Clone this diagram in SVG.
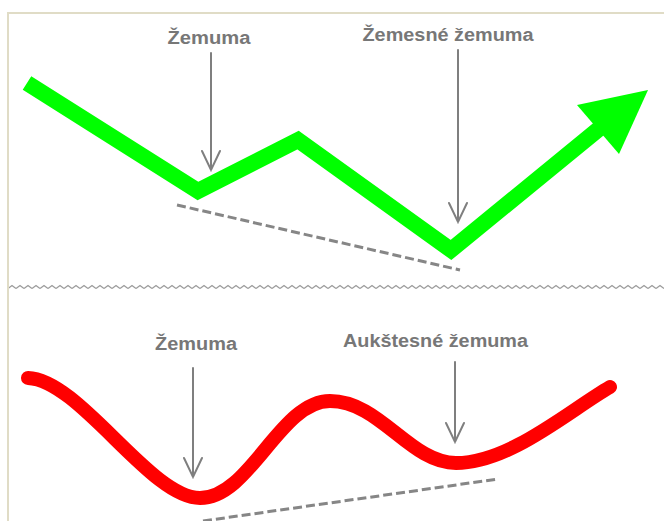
<svg xmlns="http://www.w3.org/2000/svg" width="664" height="521" viewBox="0 0 664 521">
  <defs>
    <style>
      .lbl { font-family: "Liberation Sans", Arial, sans-serif; font-weight: bold; font-size: 18px; fill: #777777; text-anchor: middle; }
      .ptr { fill: none; stroke: #7f7f7f; stroke-width: 2; stroke-linecap: round; stroke-linejoin: miter; }
      .dash { fill: none; stroke: #868686; stroke-width: 3; stroke-dasharray: 9 4; }
      .frame { fill: none; stroke: #e0dcc6; stroke-width: 2; }
    </style>
    <pattern id="zig" x="0" y="284" width="8" height="8" patternUnits="userSpaceOnUse">
      <path d="M0,4.5 L4,1.5 L8,4.5" fill="none" stroke="#9a9a9a" stroke-width="1.3"/>
    </pattern>
  </defs>
  <rect width="664" height="521" fill="#ffffff"/>
  <g id="frame">
    <path class="frame" d="M8,521 V13 H664"/>
    <rect x="9" y="284" width="655" height="8" fill="url(#zig)"/>
  </g>

  <g id="green-trend">
    <polyline points="27,83 198,191 298,140 451,250 600,128" fill="none" stroke="#00ff00" stroke-width="16" stroke-linejoin="miter"/>
    <polygon points="577,105 648,90 619,154" fill="#00ff00"/>
  </g>

  <g id="red-trend">
    <path d="M28,378 C80,380 150,498 200,498 C250,498 280,401 330,401 C380,401 410,463 456,463 C510,463 570,410 610,387" fill="none" stroke="#ff0000" stroke-width="14" stroke-linecap="round"/>
  </g>

  <g id="connectors">
    <line class="dash" x1="177" y1="205" x2="460" y2="270"/>
    <line class="dash" x1="203" y1="521" x2="498" y2="479"/>
    <path class="ptr" d="M211,53 V170 M202,151 L211,170 L220,151"/>
    <path class="ptr" d="M458,50 V222 M449,203 L458,222 L467,203"/>
    <path class="ptr" d="M193,368 V477 M184,458 L193,477 L202,458"/>
    <path class="ptr" d="M455,362 V442 M446,423 L455,442 L464,423"/>
  </g>

  <g id="label-top-1"><text class="lbl" x="209" y="44" textLength="83" lengthAdjust="spacingAndGlyphs">Žemuma</text></g>
  <g id="label-top-2"><text class="lbl" x="448" y="41" textLength="171" lengthAdjust="spacingAndGlyphs">Žemesné žemuma</text></g>
  <g id="label-bottom-1"><text class="lbl" x="196" y="350" textLength="82" lengthAdjust="spacingAndGlyphs">Žemuma</text></g>
  <g id="label-bottom-2"><text class="lbl" x="435.5" y="347" textLength="185" lengthAdjust="spacingAndGlyphs">Aukštesné žemuma</text></g>
</svg>
